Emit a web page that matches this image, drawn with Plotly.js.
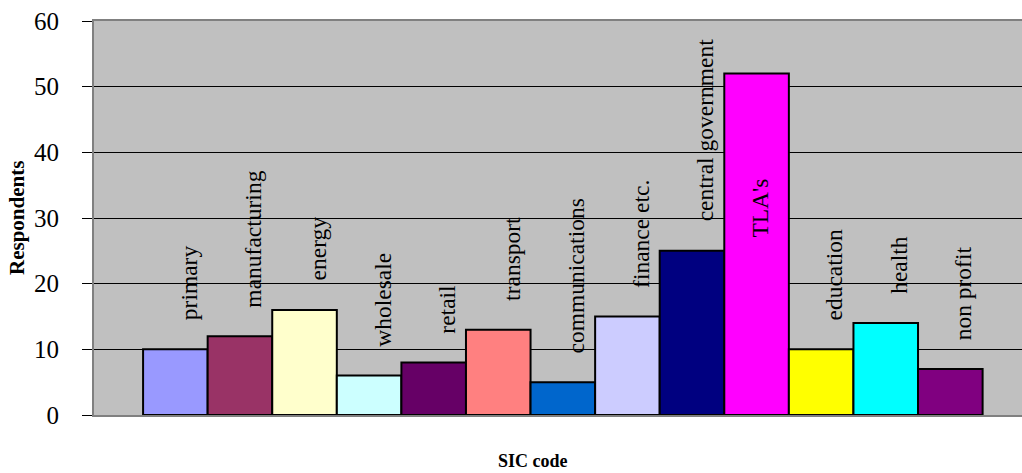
<!DOCTYPE html>
<html>
<head>
<meta charset="utf-8">
<script src="https://cdn.plot.ly/plotly-3.0.1.min.js"></script>
<style>html,body{margin:0;padding:0;background:#fff;}#chart{width:1022px;height:473px;}</style>
</head>
<body>
<div id="chart"></div>
<script>
const categories = ["primary","manufacturing","energy","wholesale","retail","transport","communications","finance etc.","central government","TLA's","education","health","non profit"];
const respondents = [10,12,16,6,8,13,5,15,25,52,10,14,7];
const barColors = ["#9999FF","#993366","#FFFFCC","#CCFFFF","#660066","#FF8080","#0066CC","#CCCCFF","#000080","#FF00FF","#FFFF00","#00FFFF","#800080"];
const yTicks = [0,10,20,30,40,50,60];
const yTitle = "Respondents";
const xTitle = "SIC code";

const serif = "'Liberation Serif', 'Times New Roman', serif";

const trace = {
  type: 'bar',
  x: categories,
  y: respondents,
  marker: {color: barColors, line: {color: '#000000', width: 2}},
  hoverinfo: 'x+y',
  cliponaxis: false
};

const annotations = categories.map((c, i) => {
  const inside = respondents[i] > 40;
  return {
    x: c, y: respondents[i], xref: 'x', yref: 'y',
    text: c, showarrow: false, textangle: -90,
    xanchor: 'center',
    yanchor: inside ? 'top' : 'bottom',
    yshift: inside ? -103 : 27,
    xshift: inside ? 3 : 13,
    font: {family: serif, size: 23.5, color: '#000000'}
  };
});

annotations.push({
  xref: 'paper', yref: 'paper', x: (533 - 94) / 928, y: 0,
  yshift: -46, xanchor: 'center', yanchor: 'middle', showarrow: false,
  text: '<b>' + xTitle + '</b>',
  font: {family: serif, size: 18, color: '#000000'}
});
annotations.push({
  xref: 'paper', yref: 'paper', x: 0, y: 0.5,
  xshift: -77, xanchor: 'center', yanchor: 'middle', showarrow: false,
  textangle: -90,
  text: '<b>' + yTitle + '</b>',
  font: {family: serif, size: 21, color: '#000000'}
});

const layout = {
  width: 1022, height: 473,
  margin: {l: 94, r: 0, t: 21, b: 58, pad: 0},
  paper_bgcolor: '#FFFFFF',
  plot_bgcolor: '#C0C0C0',
  bargap: 0,
  showlegend: false,
  xaxis: {
    type: 'category',
    range: [-1.26, 13.11],
    showticklabels: false,
    ticks: '',
    showgrid: false,
    zeroline: false,
    showline: true, mirror: true,
    linecolor: '#808080', linewidth: 2,
    fixedrange: true
  },
  yaxis: {
    range: [0, 60],
    tickvals: yTicks,
    ticktext: yTicks.map(String),
    ticks: 'outside', ticklen: 10, tickwidth: 1, tickcolor: '#000000',
    ticklabelstandoff: 18,
    tickfont: {family: serif, size: 25, color: '#000000'},
    showgrid: true, gridcolor: '#000000', gridwidth: 1,
    zeroline: false,
    showline: true, linecolor: '#808080', linewidth: 2,
    fixedrange: true
  },
  annotations: annotations
};

Plotly.newPlot('chart', [trace], layout, {displayModeBar: false, staticPlot: true});
</script>
</body>
</html>
